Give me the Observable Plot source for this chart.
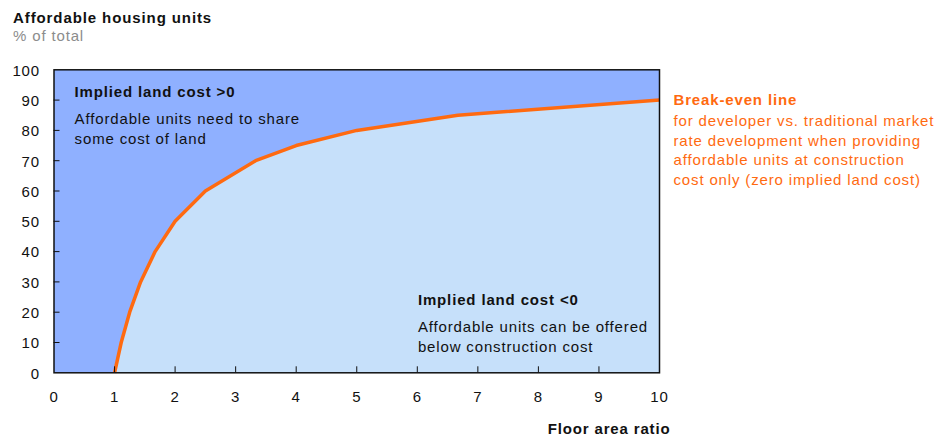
<!DOCTYPE html>
<html>
<head>
<meta charset="utf-8">
<script src="https://cdn.jsdelivr.net/npm/d3@7"></script>
<script src="https://cdn.jsdelivr.net/npm/@observablehq/plot@0.6"></script>
<style>
  html, body { margin: 0; padding: 0; background: #fff; }
  body { width: 937px; height: 437px; overflow: hidden; font-family: Arial, "Liberation Sans", sans-serif; }
  #head { position: relative; height: 50px; }
  #title { position: absolute; left: 13px; top: 9px; font-size: 15px; font-weight: bold; color: #111; letter-spacing: 0.9px; line-height: 18px; }
  #subtitle { position: absolute; left: 13px; top: 27px; font-size: 15px; color: #8c8c8c; letter-spacing: 0.85px; line-height: 18px; }
  #chart svg { display: block; }
</style>
</head>
<body>
<div id="head">
  <div id="title">Affordable housing units</div>
  <div id="subtitle">% of total</div>
</div>
<div id="chart"></div>
<script>
// Break-even line: floor area ratio vs. affordable share (% of total)
const floorAreaRatio = [1, 1.11, 1.25, 1.43, 1.67, 2, 2.5, 3.33, 4, 5, 6.67, 10];
const affordableShare = [0, 10, 20, 30, 40, 50, 60, 70, 75, 80, 85, 90];

const xTickValues = [0, 1, 2, 3, 4, 5, 6, 7, 8, 9, 10];
const xInnerTicks = [1, 2, 3, 4, 5, 6, 7, 8, 9];
const yTickValues = [0, 10, 20, 30, 40, 50, 60, 70, 80, 90, 100];
const yInnerTicks = [10, 20, 30, 40, 50, 60, 70, 80, 90];

const xLabel = "Floor area ratio";
const upperTitle = "Implied land cost >0";
const upperBody = "Affordable units need to share\nsome cost of land";
const lowerTitle = "Implied land cost <0";
const lowerBody = "Affordable units can be offered\nbelow construction cost";
const lineTitle = "Break-even line";
const lineBody = "for developer vs. traditional market\nrate development when providing\naffordable units at construction\ncost only (zero implied land cost)";

const data = floorAreaRatio.map((x, i) => ({x, y: affordableShare[i]}));

const upperFill = "#8fb0ff";
const lowerFill = "#c6e0fa";
const orange = "#ff6a10";

const chart = Plot.plot({
  width: 937,
  height: 387,
  marginTop: 19.3,
  marginBottom: 64.7,
  marginLeft: 53.5,
  marginRight: 278,
  style: {fontFamily: "Arial, 'Liberation Sans', sans-serif", fontSize: "15px", letterSpacing: "0.85px", color: "#111", background: "#fff"},
  x: {domain: [0, 10]},
  y: {domain: [0, 100]},
  marks: [
    Plot.frame({fill: upperFill}),
    Plot.areaY(data, {x: "x", y: "y", fill: lowerFill}),
    Plot.line(data, {x: "x", y: "y", stroke: orange, strokeWidth: 3.5, strokeLinejoin: "miter", strokeLinecap: "butt"}),
    Plot.axisX({ticks: xInnerTicks, tickSize: -6, tickFormat: () => "", stroke: "#111", label: null}),
    Plot.axisY({ticks: yInnerTicks, tickSize: -6, tickFormat: () => "", stroke: "#111", label: null}),
    Plot.axisX({ticks: xTickValues, tickSize: 0, tickPadding: 19, fontSize: 15, fill: "#111", label: null}),
    Plot.axisY({ticks: yTickValues, tickSize: 0, tickPadding: 14, dy: 1, fontSize: 15, fill: "#111", label: null}),
    Plot.frame({stroke: "#111", strokeWidth: 1.5}),
    Plot.text([xLabel], {frameAnchor: "bottom-right", text: d => d, textAnchor: "end", lineAnchor: "bottom", dx: 11, dy: 61, fontWeight: "bold", fontSize: 15, fill: "#111"}),
    Plot.text([upperTitle], {x: 0.34, y: 92.5, text: d => d, textAnchor: "start", lineAnchor: "middle", fontWeight: "bold", fontSize: 15, fill: "#111"}),
    Plot.text([upperBody], {x: 0.34, y: 86.7, text: d => d, textAnchor: "start", lineAnchor: "top", lineHeight: 1.333, fontSize: 15, fill: "#111"}),
    Plot.text([lowerTitle], {x: 6.01, y: 23.8, text: d => d, textAnchor: "start", lineAnchor: "middle", fontWeight: "bold", fontSize: 15, fill: "#111"}),
    Plot.text([lowerBody], {x: 6.01, y: 18.0, text: d => d, textAnchor: "start", lineAnchor: "top", lineHeight: 1.3, fontSize: 15, fill: "#111"}),
    Plot.text([lineTitle], {x: 10, y: 90, dx: 14, text: d => d, textAnchor: "start", lineAnchor: "middle", fontWeight: "bold", fontSize: 15, fill: orange}),
    Plot.text([lineBody], {x: 10, y: 90, dx: 14, dy: 12.2, text: d => d, textAnchor: "start", lineAnchor: "top", lineHeight: 1.3, fontSize: 15, fill: orange})
  ]
});
document.getElementById("chart").appendChild(chart);
</script>
</body>
</html>
